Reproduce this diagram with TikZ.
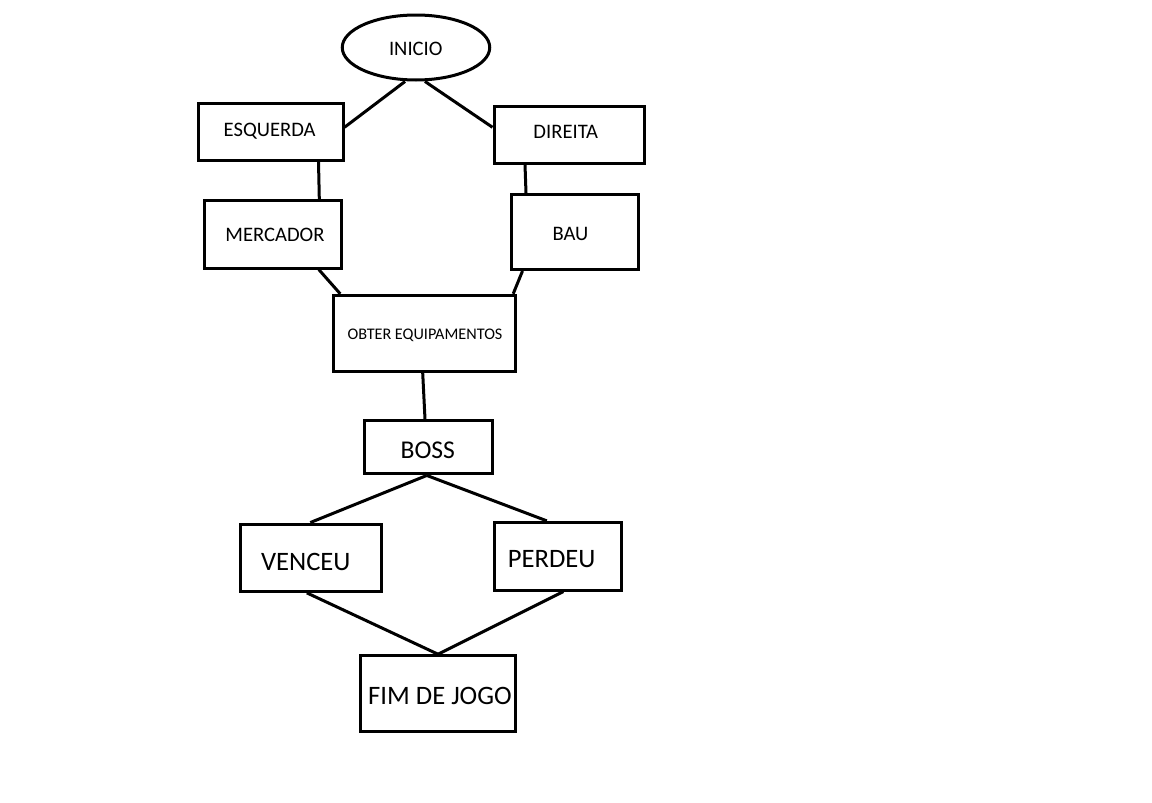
\documentclass[tikz,border=0pt]{standalone}
\usepackage{fontspec}
\setmainfont{Carlito}
\usetikzlibrary{shapes.geometric}
\begin{document}
\begin{tikzpicture}[x=1pt,y=-1pt,
  box/.style={draw, line width=3pt, inner sep=0pt},
  conn/.style={line width=3pt},
  lbl/.style={anchor=base, inner sep=0pt},
  small/.style={font=\fontsize{20.6}{24}\selectfont},
  tiny/.style={font=\fontsize{16.2}{19}\selectfont},
  big/.style={font=\fontsize{26.6}{31}\selectfont}]
\useasboundingbox[fill=white] (0,0) rectangle (1152,803);
% shapes
\node[box, ellipse, minimum width=147.5pt, minimum height=65pt] (ini) at (416,47.5) {};
\node[box, minimum width=145pt, minimum height=56.5pt] (esq) at (270.5,131.8) {};
\node[box, minimum width=150pt, minimum height=56.7pt] (dir) at (569,134.7) {};
\node[box, minimum width=137pt, minimum height=67.7pt] (merc) at (272.8,234.2) {};
\node[box, minimum width=127pt, minimum height=75pt] (bau) at (574.5,232) {};
\node[box, minimum width=182.3pt, minimum height=76pt] (obt) at (424.2,333.3) {};
\node[box, minimum width=128.3pt, minimum height=53.3pt] (boss) at (428.8,447.3) {};
\node[box, minimum width=141.3pt, minimum height=67.3pt] (venc) at (311.3,557.7) {};
\node[box, minimum width=127.3pt, minimum height=67.7pt] (perd) at (558.3,556.2) {};
\node[box, minimum width=154.6pt, minimum height=75.6pt] (fim) at (438,693.5) {};
% texts
\node[lbl, small] (iniT) at (415.8,55) {INICIO};
\node[lbl, small] (esqT) at (269.7,136.7) {ESQUERDA};
\node[lbl, small] (dirT) at (565.8,138.3) {DIREITA};
\node[lbl, small] (mercT) at (275,241) {MERCADOR};
\node[lbl, small] (bauT) at (570.5,240.7) {BAU};
\node[lbl, tiny] (obtT) at (425,339.3) {OBTER EQUIPAMENTOS};
\node[lbl, font=\fontsize{25.6}{30}\selectfont] (bossT) at (427.8,458.3) {BOSS};
\node[lbl, big] (vencT) at (305.8,570) {VENCEU};
\node[lbl, big] (perdT) at (551.7,567.7) {PERDEU};
\node[lbl, big] (fimT) at (440,704) {FIM DE JOGO};
% connectors
\draw[conn] ([xshift=-11pt]ini.south) -- ([yshift=4.5pt]esq.east);
\draw[conn] ([xshift=9pt]ini.south) -- ([yshift=7.4pt]dir.west);
\draw[conn] ([xshift=48pt]esq.south) -- ([xshift=46.5pt]merc.north);
\draw[conn] ([xshift=-44pt]dir.south) -- ([xshift=-48.5pt]bau.north);
\draw[conn] ([xshift=46pt]merc.south) -- ([xshift=-84pt]obt.north);
\draw[conn] ([xshift=-52pt]bau.south) -- ([xshift=89pt]obt.north);
\draw[conn] ([xshift=-1.5pt]obt.south) -- ([xshift=-3.8pt]boss.north);
\draw[conn] ([xshift=-2pt]boss.south) -- ([xshift=-1pt]venc.north);
\draw[conn] ([xshift=-2pt]boss.south) -- ([xshift=-11.5pt]perd.north);
\draw[conn] ([xshift=-4.5pt]venc.south) -- (fim.north);
\draw[conn] ([xshift=5pt]perd.south) -- (fim.north);
\end{tikzpicture}
\end{document}
